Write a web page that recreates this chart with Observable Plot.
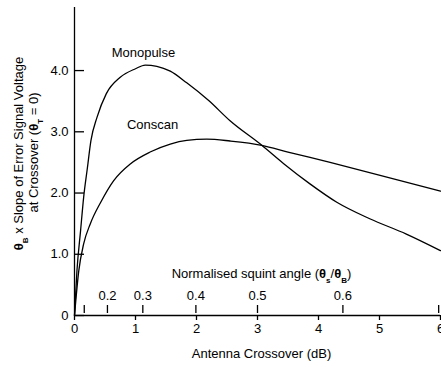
<!DOCTYPE html>
<html><head><meta charset="utf-8">
<script src="https://cdn.jsdelivr.net/npm/d3@7"></script>
<script src="https://cdn.jsdelivr.net/npm/@observablehq/plot@0.6"></script>
<style>body{margin:0;background:#fff} svg{display:block}</style>
</head><body><div id="chart"></div>
<script>
// Monopulse curve (antenna crossover dB, slope)
const monoX = [0, 0.04, 0.10, 0.15, 0.21, 0.27, 0.37, 0.52, 0.75, 1.00, 1.16, 1.35, 1.57, 1.84, 2.20, 2.55, 3.07, 3.43, 3.86, 4.30, 4.84, 5.44, 6.00];
const monoY = [0, 0.73, 1.39, 1.93, 2.40, 2.86, 3.24, 3.62, 3.89, 4.03, 4.09, 4.07, 3.99, 3.80, 3.51, 3.18, 2.78, 2.48, 2.15, 1.85, 1.58, 1.33, 1.06];
// Conscan curve
const consX = [0, 0.07, 0.15, 0.26, 0.43, 0.64, 0.92, 1.24, 1.57, 1.84, 2.17, 2.55, 3.07, 3.50, 4.19, 5.01, 6.00];
const consY = [0, 0.73, 1.17, 1.50, 1.85, 2.20, 2.48, 2.67, 2.80, 2.86, 2.88, 2.85, 2.78, 2.67, 2.50, 2.29, 2.03];

const xTicks = [0, 1, 2, 3, 4, 5, 6];
const yTicks = [0, 1, 2, 3, 4];
const yTickLabels = ["0", "1.0", "2.0", "3.0", "4.0"];
// secondary scale: normalised squint angle ticks, placed at their crossover (dB) values
const squintDb = [0.16, 0.54, 1.12, 1.99, 3.00, 4.40, 5.97];
const squintLabels = ["", "0.2", "0.3", "0.4", "0.5", "0.6", ""];

const curveNames = ["Monopulse", "Conscan"];
const curveLabelX = [1.13, 1.28];
const curveLabelY = [4.29, 3.12];

const xTitle = "Antenna Crossover (dB)";
const squintTitle = "Normalised squint angle (θs/θB)";
const yTitle1 = "θB x Slope of Error Signal Voltage";
const yTitle2 = "at Crossover (θT = 0)";

const mono = monoX.map((x, i) => ({x, y: monoY[i]}));
const cons = consX.map((x, i) => ({x, y: consY[i]}));
const curveLabels = curveNames.map((name, i) => ({name, x: curveLabelX[i], y: curveLabelY[i]}));

const plot = Plot.plot({
  width: 441, height: 367,
  marginLeft: 74, marginRight: 1, marginTop: 7, marginBottom: 52,
  style: {fontFamily: "'Liberation Sans', Arial, sans-serif", fontSize: "13px", color: "#000", background: "#fff", overflow: "hidden"},
  x: {domain: [0, 6], axis: null},
  y: {domain: [0, 5.03], axis: null},
  marks: [
    Plot.ruleX([0], {strokeWidth: 1.3}),
    Plot.ruleY([0], {strokeWidth: 1.3}),
    Plot.axisY(yTicks, {anchor: "left", tickSize: 0, tickPadding: 6, tickFormat: d => yTickLabels[yTicks.indexOf(d)], label: null}),
    Plot.axisY(yTicks, {anchor: "left", tickSize: -10, fill: "none", strokeWidth: 1.3, label: null}),
    Plot.axisX(xTicks, {anchor: "bottom", tickSize: 5, tickPadding: 3, strokeWidth: 1.3, label: null}),
    Plot.axisX(squintDb, {anchor: "bottom", tickSize: -8, dy: -2, fill: "none", strokeWidth: 1.3, label: null}),
    Plot.text(squintDb, {x: d => d, text: (d, i) => squintLabels[i], frameAnchor: "bottom", dy: -16}),
    Plot.text([squintTitle], {frameAnchor: "bottom", dy: -38, dx: 4}),
    Plot.text([xTitle], {frameAnchor: "bottom", dy: 42, dx: 4}),
    Plot.text([yTitle1], {frameAnchor: "left", textAnchor: "middle", rotate: -90, dx: -56, dy: -8}),
    Plot.text([yTitle2], {frameAnchor: "left", textAnchor: "middle", rotate: -90, dx: -41, dy: -9}),
    Plot.line(mono, {x: "x", y: "y", curve: "monotone-x", strokeWidth: 1.3}),
    Plot.line(cons, {x: "x", y: "y", curve: "monotone-x", strokeWidth: 1.3}),
    Plot.text(curveLabels, {x: "x", y: "y", text: "name"})
  ]
});
document.getElementById("chart").appendChild(plot);

// subscripted theta symbols
const walker = document.createTreeWalker(plot, NodeFilter.SHOW_TEXT);
const nodes = [];
while (walker.nextNode()) if (/θ[BTs]/.test(walker.currentNode.nodeValue)) nodes.push(walker.currentNode);
const NS = "http://www.w3.org/2000/svg";
for (const node of nodes) {
  const frag = document.createDocumentFragment();
  for (const part of node.nodeValue.split(/(θ[BTs])/)) {
    if (/^θ[BTs]$/.test(part)) {
      const t1 = document.createElementNS(NS, "tspan");
      t1.setAttribute("font-weight", "bold");
      t1.textContent = "θ";
      const t2 = document.createElementNS(NS, "tspan");
      t2.setAttribute("font-weight", "bold");
      t2.setAttribute("font-size", "8px");
      t2.setAttribute("baseline-shift", "sub");
      t2.textContent = part[1];
      frag.appendChild(t1); frag.appendChild(t2);
    } else if (part) {
      frag.appendChild(document.createTextNode(part));
    }
  }
  node.parentNode.replaceChild(frag, node);
}
</script>
</body></html>
